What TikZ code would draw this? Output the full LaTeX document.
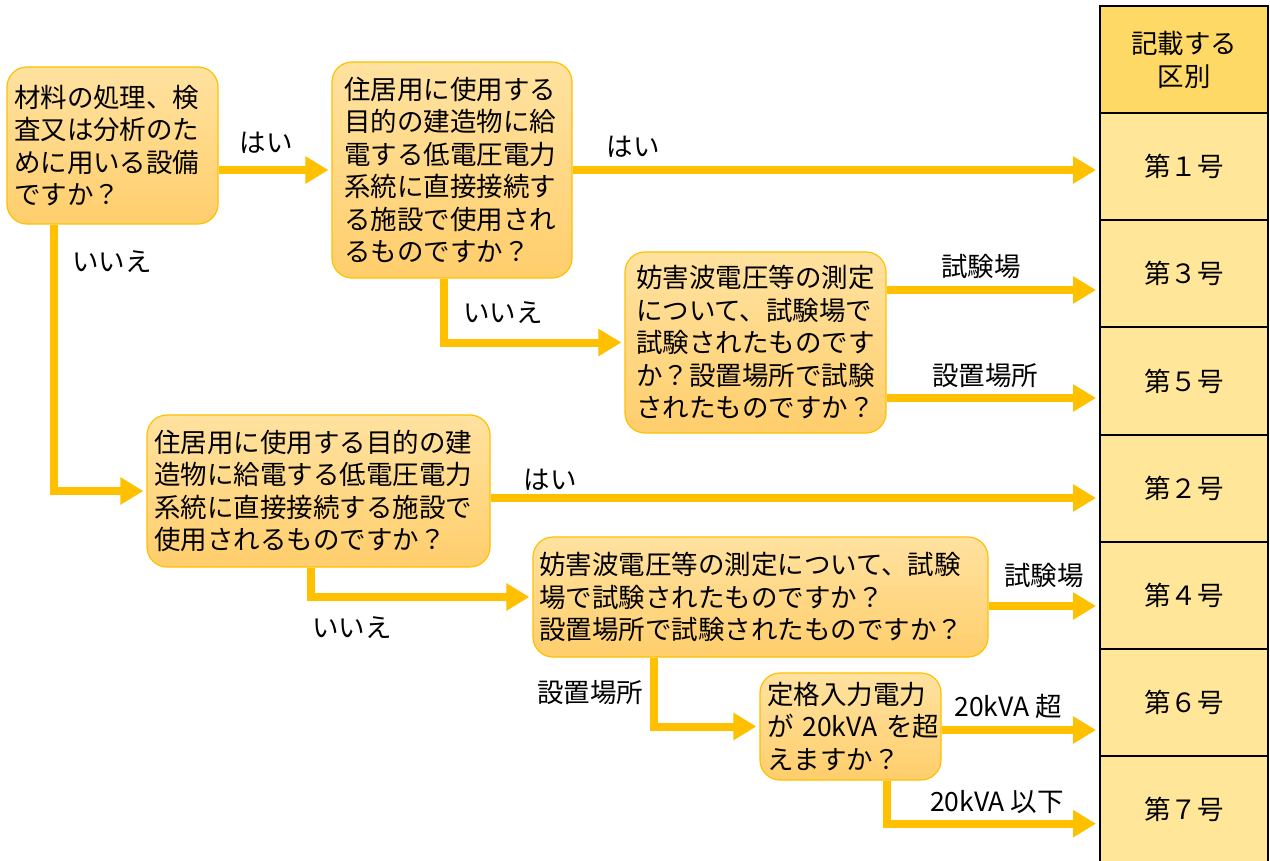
\documentclass[tikz,border=0pt]{standalone}
\usepackage{fontspec}
\setmainfont{Noto Sans CJK JP}
\usetikzlibrary{arrows.meta,calc}
\definecolor{arrowc}{HTML}{FFC000}
\definecolor{boxtop}{HTML}{FFE2A0}
\definecolor{boxbot}{HTML}{FFCE6C}
\definecolor{boxline}{HTML}{FFC000}
\definecolor{rowfill}{HTML}{FFE699}
\definecolor{headfill}{HTML}{FFD966}
\begin{document}
\begin{tikzpicture}[x=1pt,y=-1pt,
  q/.style={draw=boxline,line width=1.2pt,rounded corners=20pt,top color=boxtop,bottom color=boxbot,
    align=left,inner xsep=4pt,inner ysep=0pt,font=\fontsize{26.5}{32.5}\selectfont},
  colbox/.style={draw=black,line width=2pt,fill=rowfill,minimum width=168pt,minimum height=107.2pt,
    inner sep=0pt,align=center,font=\fontsize{26.5}{33}\selectfont},
  lab/.style={inner sep=0pt,font=\fontsize{26.5}{32}\selectfont},
  arr/.style={draw=arrowc,line width=8pt,-{Triangle[length=23pt,width=26pt]},shorten >=3pt}
]
\useasboundingbox (0,0) rectangle (1270,861);
\fill[white] (0,0) rectangle (1270,861);

% right column
\node[colbox,fill=headfill,minimum height=107pt] (hd) at (1184,59.5) {記載する\\区別};
\node[colbox] (r1) at (1184,166.5) {第１号};
\node[colbox] (r3) at (1184,273.7) {第３号};
\node[colbox] (r5) at (1184,380.9) {第５号};
\node[colbox] (r2) at (1184,488.1) {第２号};
\node[colbox] (r4) at (1184,595.3) {第４号};
\node[colbox] (r6) at (1184,702.5) {第６号};
\node[colbox] (r7) at (1184,809.7) {第７号};

% question boxes
\node[q,minimum width=211pt,minimum height=157pt,text width=197pt] (A) at (112.5,145.5)
  {材料の処理、検\\査又は分析のた\\めに用いる設備\\ですか？};
\node[q,minimum width=240pt,minimum height=216pt,text width=216pt] (B) at (452,170)
  {住居用に使用する\\目的の建造物に給\\電する低電圧電力\\系統に直接接続す\\る施設で使用され\\るものですか？};
\node[q,minimum width=261pt,minimum height=181pt,text width=239pt] (C) at (755.5,342.5)
  {妨害波電圧等の測定\\について、試験場で\\試験されたものです\\か？設置場所で試験\\されたものですか？};
\node[q,minimum width=343pt,minimum height=152pt,text width=329pt] (D) at (318.5,491)
  {住居用に使用する目的の建\\造物に給電する低電圧電力\\系統に直接接続する施設で\\使用されるものですか？};
\node[q,minimum width=455pt,minimum height=120pt,text width=443pt] (E) at (760.5,597)
  {妨害波電圧等の測定について、試験\\場で試験されたものですか？\\設置場所で試験されたものですか？};
\node[q,minimum width=181pt,minimum height=107pt,text width=167pt] (F) at (850.5,726.5)
  {定格入力電力\\が~20kVA~を超\\えますか？};

% connectors
\draw[arr] (A.east |- B.west) -- (B.west);
\draw[arr] ([xshift=48pt]A.south west) |- (D.west);
\draw[arr] (B.east) -- (B.east -| r1.west);
\draw[arr] ([xshift=113pt]B.south west) |- (C.west);
\draw[arr] ($(C.east)+(0,-52.5)$) coordinate (c3) -- (c3 -| r3.west);
\draw[arr] ($(C.east)+(0,55.5)$) coordinate (c5) -- (c5 -| r5.west);
\draw[arr] ($(D.east)+(0,7)$) coordinate (d2) -- (d2 -| r2.west);
\draw[arr] ([xshift=165pt]D.south west) |- (E.west);
\draw[arr] ($(E.east)+(0,9)$) coordinate (e4) -- (e4 -| r4.west);
\draw[arr] ([xshift=122pt]E.south west) |- (F.west);
\draw[arr] ($(F.east)+(0,3.5)$) coordinate (f6) -- (f6 -| r6.west);
\draw[arr] ([xshift=128pt]F.south west) |- ([yshift=-14pt]r7.west);

% labels
\node[lab] (l1) at (266,143) {はい};
\node[lab] (l2) at (112,262) {いいえ};
\node[lab] (l3) at (633,147) {はい};
\node[lab] (l4) at (503,313) {いいえ};
\node[lab] (l5) at (981,266) {試験場};
\node[lab] (l6) at (985,376) {設置場所};
\node[lab] (l7) at (550,480) {はい};
\node[lab] (l8) at (352,628) {いいえ};
\node[lab] (l9) at (1044,575) {試験場};
\node[lab] (l10) at (590,693) {設置場所};
\node[lab] (l11) at (1008,706) {20kVA 超};
\node[lab] (l12) at (997,802) {20kVA 以下};
\end{tikzpicture}
\end{document}
